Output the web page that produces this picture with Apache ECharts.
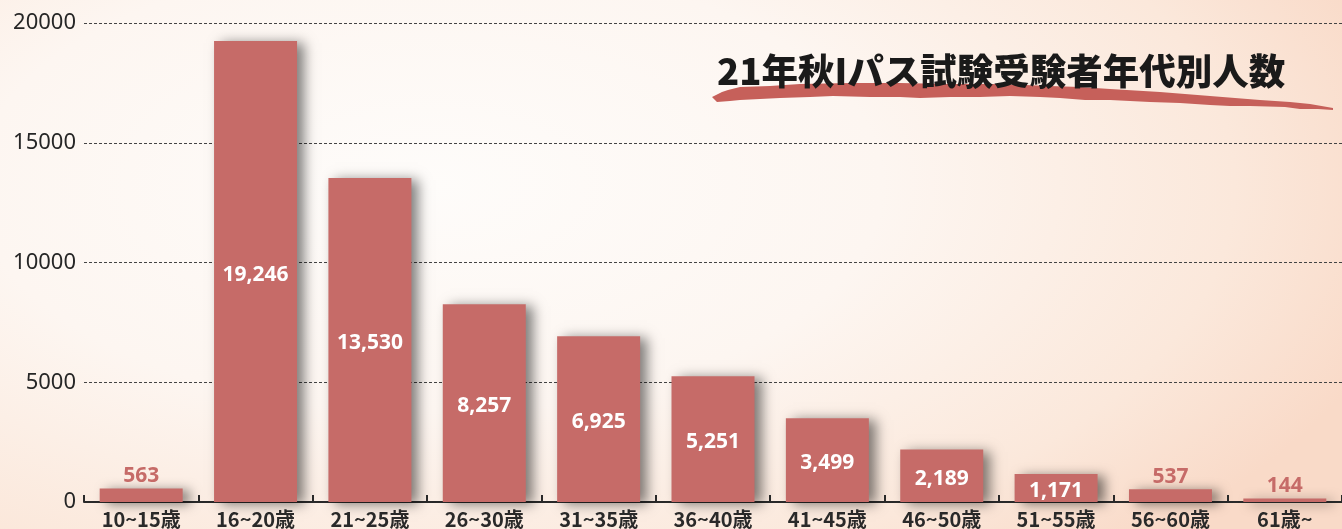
<!DOCTYPE html>
<html><head><meta charset="utf-8">
<script src="https://cdn.jsdelivr.net/npm/echarts@6/dist/echarts.min.js"></script>
<style>
html,body{margin:0;padding:0;width:1342px;height:529px;overflow:hidden;}
body{background:
 radial-gradient(ellipse 75% 95% at 32% 35%, #fefcfa 0%, #fdf6f1 45%, #fbe8db 80%, #f9dac8 100%);}
#c{width:1342px;height:529px;}
</style></head>
<body><div id="c"></div>
<script>
const categories = ['10~15歳','16~20歳','21~25歳','26~30歳','31~35歳','36~40歳','41~45歳','46~50歳','51~55歳','56~60歳','61歳~'];
const counts = [563,19246,13530,8257,6925,5251,3499,2189,1171,537,144];
const yTicks = [0,5000,10000,15000,20000];
const titleText = '21年秋Iパス試験受験者年代別人数';

const barColor = '#c66b68';
const fmt = v => String(v).replace(/\B(?=(\d{3})+(?!\d))/g, ',');

const data = counts.map(v => {
  const inside = v >= 1000;
  return {
    value: v,
    label: inside
      ? {position:'inside', color:'#ffffff', offset:[0,3]}
      : {position:'top', color:barColor, distance:2}
  };
});

const chart = echarts.init(document.getElementById('c'), null, {renderer:'canvas'});
chart.setOption({
  backgroundColor:'transparent',
  animation:false,
  grid:{left:84, top:23, bottom:26, width:1263, containLabel:false},
  xAxis:{
    type:'category', data:categories,
    axisLine:{show:true, lineStyle:{color:'#2a2a2a', width:2}},
    axisTick:{show:true, inside:true, length:7, lineStyle:{color:'#2a2a2a', width:2}},
    axisLabel:{color:'#2a2a2a', fontSize:20, fontWeight:'bold', margin:7,
      fontFamily:'"Noto Sans CJK JP", "Noto Sans", sans-serif'}
  },
  yAxis:{
    type:'value', min:yTicks[0], max:yTicks[yTicks.length-1], interval:yTicks[1]-yTicks[0],
    axisLine:{show:false}, axisTick:{show:false},
    axisLabel:{color:'#262626', fontSize:22, margin:8, fontFamily:'"Noto Sans", sans-serif',
      formatter: v => String(v)},
    splitLine:{show:true, lineStyle:{color:'#444', type:[3,2], width:1}}
  },
  series:[{
    type:'bar', data:data, barWidth:83,
    itemStyle:{color:barColor, shadowColor:'rgba(0,0,0,0.5)', shadowBlur:12, shadowOffsetX:7, shadowOffsetY:2},
    label:{show:true, fontSize:21, fontWeight:'bold', fontFamily:'"Open Sans", "Noto Sans", sans-serif',
      formatter: p => fmt(p.value)}
  }],
  graphic:[
    {type:'polygon', z:1, silent:true,
     shape:{points:[[712,97],[722,92],[728,90],[740,87],[770,86],[800,84],[850,83],[900,83],[950,84],[1000,84],[1050,86],[1080,87],[1110,89],[1160,92],[1210,96],[1260,100],[1290,102],[1310,104],[1333,108],
       [1333,110],[1318,109],[1300,109],[1285,107],[1250,106],[1230,106],[1210,105],[1180,103],[1150,102],[1130,101],[1110,100],[1085,100],[1060,98],[1040,97],[1010,96],[980,97],[950,97],[920,98],[900,97],[870,97],[833,96],[810,97],[780,98],[760,99],[740,100],[730,101],[717,102]]},
     style:{fill:'#c6605a'}},
    {type:'text', z:10, left:717, top:53, silent:true,
     style:{text:titleText, fontSize:36.5, fontWeight:900, fill:'#1a1a1a',
       fontFamily:'"Noto Sans CJK JP", sans-serif'}}
  ]
});
</script></body></html>
